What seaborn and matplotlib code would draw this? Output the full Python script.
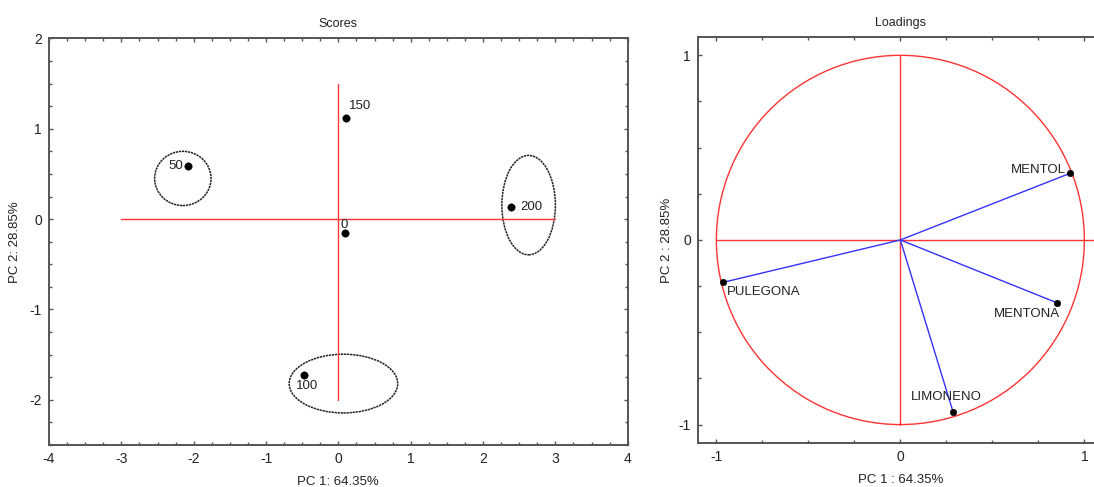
import matplotlib
matplotlib.use("Agg")
import matplotlib.pyplot as plt
from matplotlib.patches import Ellipse, Circle
from matplotlib.ticker import MultipleLocator
import pandas as pd
import seaborn as sns

sns.set_style("ticks")
plt.rcParams['font.family'] = ['Liberation Sans', 'DejaVu Sans']
plt.rcParams['axes.unicode_minus'] = False

# scores
score_labels = ['0', '50', '100', '150', '200']
pc1_scores = [0.09, -2.08, -0.47, 0.11, 2.39]
pc2_scores = [-0.15, 0.59, -1.73, 1.12, 0.13]

# confidence ellipses: center x, center y, width, height
ell_x = [-2.15, 2.63, 0.07]
ell_y = [0.45, 0.155, -1.82]
ell_w = [0.78, 0.74, 1.5]
ell_h = [0.6, 1.1, 0.65]

# loadings
load_labels = ['MENTOL', 'MENTONA', 'PULEGONA', 'LIMONENO']
pc1_load = [0.92, 0.85, -0.965, 0.286]
pc2_load = [0.36, -0.34, -0.23, -0.93]

scores = pd.DataFrame({'label': score_labels, 'pc1': pc1_scores, 'pc2': pc2_scores})
loads = pd.DataFrame({'label': load_labels, 'pc1': pc1_load, 'pc2': pc2_load})

txt = '#222222'
frame = '#555555'


def style_axes(ax):
    for s in ax.spines.values():
        s.set_color(frame)
        s.set_linewidth(1.4)
    ax.tick_params(which='both', direction='in', top=True, right=True,
                   color=frame, labelsize=10, labelcolor=txt, pad=5)
    ax.tick_params(which='major', length=3, width=1)
    ax.tick_params(which='minor', length=2, width=1)


fig = plt.figure(figsize=(10.94, 4.87), dpi=100)

# --- Scores ---
ax1 = fig.add_axes([0.0448, 0.0862, 0.529, 0.835])
ax1.plot([-3, 3], [0, 0], color='#ff3333', lw=1)
ax1.plot([0, 0], [-2, 1.5], color='#ff3333', lw=1)
for cx, cy, w, h in zip(ell_x, ell_y, ell_w, ell_h):
    ax1.add_patch(Ellipse((cx, cy), w, h, fill=False, ec='#222222',
                          lw=1.1, ls=(0, (1.5, 0.5))))
sns.scatterplot(data=scores, x='pc1', y='pc2', color='black', s=28,
                edgecolor='black', ax=ax1, zorder=5)
offsets = {'0': (-0.06, 0.09, 'left', 'center'),
           '50': (-0.06, 0.0, 'right', 'center'),
           '100': (-0.12, -0.12, 'left', 'center'),
           '150': (0.04, 0.13, 'left', 'center'),
           '200': (0.12, 0.0, 'left', 'center')}
for lab, x, y in zip(score_labels, pc1_scores, pc2_scores):
    dx, dy, ha, va = offsets[lab]
    ax1.text(x + dx, y + dy, lab, fontsize=9.5, color=txt, ha=ha, va=va)
ax1.set_xlim(-4, 4)
ax1.set_ylim(-2.5, 2)
ax1.xaxis.set_major_locator(MultipleLocator(1))
ax1.xaxis.set_minor_locator(MultipleLocator(0.25))
ax1.yaxis.set_major_locator(MultipleLocator(1))
ax1.yaxis.set_minor_locator(MultipleLocator(0.25))
ax1.set_title('Scores', fontsize=9, color=txt, pad=8)
ax1.set_xlabel('PC 1: 64.35%', fontsize=9.5, color=txt, labelpad=7)
ax1.set_ylabel('PC 2: 28.85%', fontsize=9.5, color=txt, labelpad=6)
style_axes(ax1)

# --- Loadings ---
ax2 = fig.add_axes([0.638, 0.0903, 0.370, 0.834])
ax2.add_patch(Circle((0, 0), 1, fill=False, ec='#ff3333', lw=1))
ax2.plot([-1, 1.1], [0, 0], color='#ff3333', lw=1)
ax2.plot([0, 0], [-1, 1], color='#ff3333', lw=1)
for x, y in zip(pc1_load, pc2_load):
    ax2.plot([0, x], [0, y], color='#3333ff', lw=1)
sns.scatterplot(data=loads, x='pc1', y='pc2', color='black', s=22,
                edgecolor='black', ax=ax2, zorder=5)
load_off = {'MENTOL': (-0.02, 0.02, 'right', 'center'),
            'MENTONA': (0.02, -0.06, 'right', 'center'),
            'PULEGONA': (0.02, -0.05, 'left', 'center'),
            'LIMONENO': (-0.036, 0.08, 'center', 'center')}
for lab, x, y in zip(load_labels, pc1_load, pc2_load):
    dx, dy, ha, va = load_off[lab]
    ax2.text(x + dx, y + dy, lab, fontsize=9.5, color=txt, ha=ha, va=va)
ax2.set_xlim(-1.1, 1.1)
ax2.set_ylim(-1.1, 1.1)
ax2.set_xticks([-1, 0, 1])
ax2.set_yticks([-1, 0, 1])
ax2.xaxis.set_minor_locator(MultipleLocator(0.25))
ax2.yaxis.set_minor_locator(MultipleLocator(0.25))
ax2.set_title('Loadings', fontsize=9, color=txt, pad=8)
ax2.set_xlabel('PC 1 : 64.35%', fontsize=9.5, color=txt, labelpad=7)
ax2.set_ylabel('PC 2 : 28.85%', fontsize=9.5, color=txt)
style_axes(ax2)

fig.savefig('out.png', dpi=100)
